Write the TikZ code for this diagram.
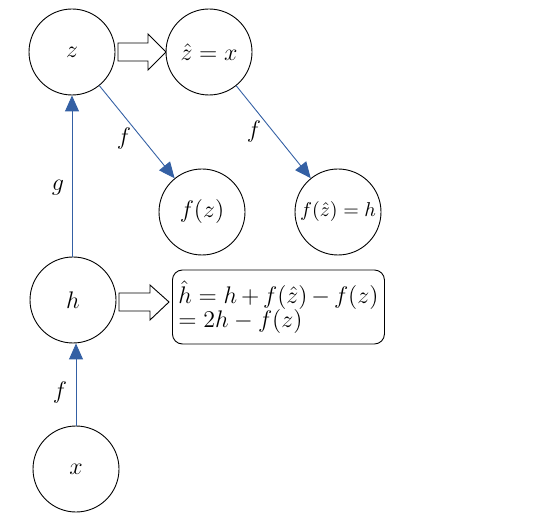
\documentclass[tikz,border=0pt]{standalone}
\usetikzlibrary{arrows.meta}
\definecolor{cblue}{RGB}{52,96,164}
\begin{document}
\begin{tikzpicture}[x=0.5pt,y=-0.5pt,
  every node/.style={font=\fontsize{12}{12}\selectfont},
  circ/.style={circle,draw,line width=0.45pt,minimum size=43pt,inner sep=0pt},
  conn/.style={draw=cblue,line width=0.45pt,-{Triangle[length=8pt,width=7pt]}},
  lbl/.style={inner sep=0pt},
  blockarrow/.style={draw,line width=0.45pt,fill=white}]
\useasboundingbox (0,0) rectangle (551,523);
\node[circ] (z) at (72,52) {$z$};
\node[circ] (zh) at (209,52) {$\hat{z}=x$};
\node[circ] (fz) at (202,212) {$f(z)$};
\node[circ,font=\fontsize{10}{10}\selectfont] (fzh) at (338,212) {$f(\hat{z})=h$};
\node[circ] (h) at (73,300) {$h$};
\node[circ] (x) at (76,469) {$x$};
\node[draw,rounded corners=5pt,line width=0.45pt,anchor=west,text width=100pt,
  inner sep=3pt,minimum height=37pt,align=left] (box) at (172,307)
  {$\hat{h}=h+f(\hat{z})-f(z)$\\$=2h-f(z)$};
% block arrows
\draw[blockarrow] (118,43) -- (148,43) -- (148,34) -- (166,52) -- (148,70) -- (148,61) -- (118,61) -- cycle;
\draw[blockarrow] (119,293) -- (150,293) -- (150,285) -- (169,302) -- (150,320) -- (150,311) -- (119,311) -- cycle;
% connectors
\draw[conn] (h.north -| z.south) -- (z.south);
\draw[conn] (x.north) -- (x.north |- h.south);
\draw[conn] (z) -- (fz);
\draw[conn] (zh) -- (fzh);
% labels
\node[lbl] (lf1) at (124,139) {$f$};
\node[lbl] (lg) at (58,188) {$g$};
\node[lbl] (lf2) at (254,132) {$f$};
\node[lbl] (lf3) at (60,393) {$f$};
\end{tikzpicture}
\end{document}
